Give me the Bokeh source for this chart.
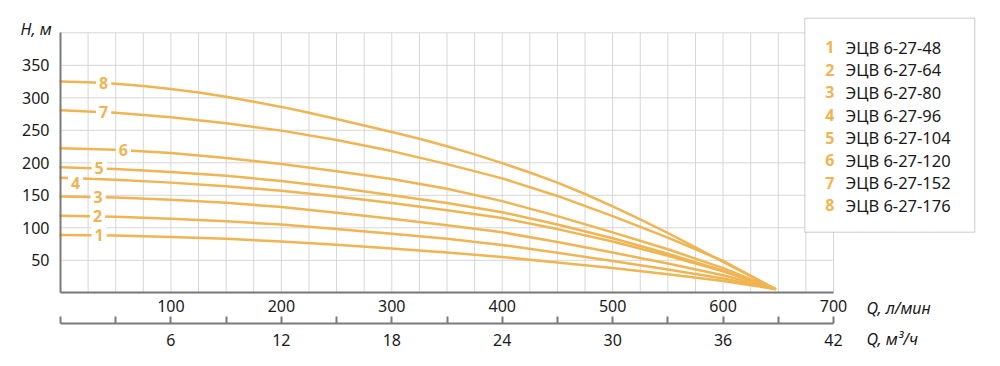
import numpy as np
from bokeh.plotting import figure
from bokeh.models import Range1d, LinearAxis, FixedTicker, Label, BoxAnnotation, ColumnDataSource
from bokeh.core.properties import value
from bokeh.embed import file_html
from bokeh.resources import INLINE

# ---------------- data ----------------
q_lmin = [0, 50, 100, 150, 200, 250, 300, 350, 400, 450, 500, 550, 600, 647]
h1 = [89, 88, 86, 83, 79, 74, 68, 62, 55, 46.5, 38, 28.5, 18, 6]
h2 = [118.5, 117, 114, 110, 105, 98, 91, 83, 73.5, 61.5, 49, 36, 22, 6]
h3 = [148, 146.5, 143, 138.5, 132, 123, 114, 104, 93, 78, 62, 45, 27, 6]
h4 = [177, 174, 169.5, 164, 157, 148, 138, 127, 115, 98, 79, 57, 33, 6]
h5 = [193, 190.5, 186, 180, 172, 162, 150, 138, 124, 105, 84, 60, 34, 6]
h6 = [222.5, 220, 215, 207.5, 198, 187, 175, 160, 141, 118, 93, 67, 38, 6]
h7 = [281, 277, 270, 261, 249.5, 235, 218, 198, 176, 149, 118, 85, 49, 6]
q8 = [0, 25, 50, 75, 100, 125, 150, 175, 200, 225, 250, 275, 300, 325, 350, 375, 400,
      425, 450, 475, 500, 525, 550, 575, 600, 625, 647]
h8 = [325, 324, 321.5, 318, 313.5, 308, 301.5, 294, 286, 277, 267.5, 257.5, 247.5, 237, 225.5,
      213, 199.5, 185, 169.5, 152, 133, 113, 92, 70, 47.5, 25.5, 6]

curve_ids = ["1", "2", "3", "4", "5", "6", "7", "8"]
models = ["ЭЦВ 6-27-48", "ЭЦВ 6-27-64", "ЭЦВ 6-27-80", "ЭЦВ 6-27-96",
          "ЭЦВ 6-27-104", "ЭЦВ 6-27-120", "ЭЦВ 6-27-152", "ЭЦВ 6-27-176"]
label_q = [35, 33.5, 34, 13.6, 35, 57, 39, 39]

q_ticks_lmin = [100, 200, 300, 400, 500, 600, 700]
q_ticks_m3h = [6, 12, 18, 24, 30, 36, 42]
q_minor_m3h = [0, 3, 9, 15, 21, 27, 33, 39]
h_ticks = [50, 100, 150, 200, 250, 300, 350]
grid_q = list(range(0, 701, 25))
grid_h = list(range(0, 401, 50))

# ---------------- style / geometry ----------------
ORANGE = "#F0B452"
GRID = "#d6d6d6"
AXIS = "#7a7a7a"
TXT = "#1a1a1a"
FONT = "Noto Sans"

W, H = 992, 358
X0, KX = 60.0, 773.0 / 700.0     # px of Q=0, px per l/min
Y0, KY = 292.3, 0.65              # px of H=0, px per metre


def qx(px):
    return (px - X0) / KX


def hy(py):
    return (Y0 - py) / KY


p = figure(width=W, height=H,
           x_range=Range1d(qx(0), qx(W)), y_range=Range1d(hy(H), hy(0)),
           output_backend="svg", toolbar_location=None,
           min_border=0, min_border_left=0, min_border_right=0,
           min_border_top=0, min_border_bottom=0)
p.extra_x_ranges = {"m3h": Range1d(qx(0) * 0.06, qx(W) * 0.06)}
p.background_fill_color = "white"
p.border_fill_color = "white"
p.outline_line_color = None
p.xgrid.visible = False
p.ygrid.visible = False

# grid lines (limited to the chart area)
p.segment(x0=grid_q, y0=[grid_h[0]] * len(grid_q), x1=grid_q, y1=[grid_h[-1]] * len(grid_q),
          line_color=GRID, line_width=1)
p.segment(x0=[grid_q[0]] * len(grid_h), y0=grid_h, x1=[grid_q[-1]] * len(grid_h), y1=grid_h,
          line_color=GRID, line_width=1)

# y axis
ya = p.yaxis[0]
ya.fixed_location = 0
ya.bounds = (0, 400)
ya.ticker = FixedTicker(ticks=h_ticks)
ya.major_tick_line_color = None
ya.minor_tick_line_color = None
ya.major_tick_in = 0
ya.major_tick_out = 0
ya.axis_line_color = AXIS
ya.axis_line_width = 2
ya.major_label_standoff = 11
ya.major_label_text_font = FONT
ya.major_label_text_font_size = "16px"
ya.major_label_text_color = TXT

# main x axis (l/min)
xa = p.xaxis[0]
xa.fixed_location = 0
xa.bounds = (0, 700)
xa.ticker = FixedTicker(ticks=q_ticks_lmin)
xa.major_tick_line_color = None
xa.minor_tick_line_color = None
xa.major_tick_in = 0
xa.major_tick_out = 0
xa.axis_line_color = AXIS
xa.axis_line_width = 2
xa.major_label_standoff = 7
xa.major_label_text_font = FONT
xa.major_label_text_font_size = "16px"
xa.major_label_text_color = TXT

# secondary x axis (m3/h)
ax2 = LinearAxis(x_range_name="m3h",
                 ticker=FixedTicker(ticks=q_ticks_m3h, minor_ticks=q_minor_m3h))
ax2.fixed_location = hy(323.3)
ax2.bounds = (0, 42)
ax2.major_tick_in = 7
ax2.major_tick_out = 0
ax2.minor_tick_in = 7
ax2.minor_tick_out = 0
ax2.major_tick_line_color = AXIS
ax2.minor_tick_line_color = AXIS
ax2.major_tick_line_width = 2
ax2.minor_tick_line_width = 2
ax2.axis_line_color = AXIS
ax2.axis_line_width = 2
ax2.major_label_standoff = 10
ax2.major_label_text_font = FONT
ax2.major_label_text_font_size = "16px"
ax2.major_label_text_color = TXT
p.add_layout(ax2, "below")

# curves
all_q = [q_lmin] * 7 + [q8]
all_h = [h1, h2, h3, h4, h5, h6, h7, h8]
for q, h in zip(all_q, all_h):
    p.line(q, h, line_color=ORANGE, line_width=2.5, line_cap="round", line_join="round")

# curve number labels
lab_h = [float(np.interp(lq, q, h)) for lq, q, h in zip(label_q, all_q, all_h)]
lab_yoff = [0, 0, 0, 5, 0, 0, 0, 0]
src = ColumnDataSource(dict(x=label_q, y=lab_h, t=curve_ids, yo=lab_yoff))
p.text(x="x", y="y", text="t", source=src, y_offset="yo",
       text_font=value(FONT), text_font_size="16px", text_font_style="bold",
       text_color=ORANGE, text_align="center", text_baseline="middle",
       background_fill_color="white", padding=3)

# axis titles
p.add_layout(Label(x=qx(20), y=hy(28), text="H, м", text_font=FONT, text_font_size="16px",
                   text_font_style="italic", text_color=TXT, text_align="left",
                   text_baseline="middle"))
p.add_layout(Label(x=qx(866), y=hy(307), text="Q, л/мин", text_font=FONT, text_font_size="16px",
                   text_font_style="italic", text_color=TXT, text_align="left",
                   text_baseline="middle"))
p.add_layout(Label(x=qx(866), y=hy(338), text="Q, м³/ч", text_font=FONT, text_font_size="16px",
                   text_font_style="italic", text_color=TXT, text_align="left",
                   text_baseline="middle"))

# legend box
p.add_layout(BoxAnnotation(left=qx(804.3), right=qx(974.3), top=hy(17.7), bottom=hy(231.7),
                           fill_color="white", fill_alpha=1.0,
                           line_color="#555555", line_width=1, level="overlay"))
for i, (cid, name) in enumerate(zip(curve_ids, models)):
    yy = hy(46.7 + i * 22.6)
    p.add_layout(Label(x=qx(829.3), y=yy, text=cid, text_font=FONT, text_font_size="16px",
                       text_font_style="bold", text_color=ORANGE, text_align="center",
                       text_baseline="middle", level="overlay"))
    p.add_layout(Label(x=qx(845), y=yy, text=name, text_font=FONT, text_font_size="16.5px",
                       text_color=TXT, text_align="left", text_baseline="middle",
                       level="overlay"))

open("out.html", "w").write(file_html(p, INLINE))
